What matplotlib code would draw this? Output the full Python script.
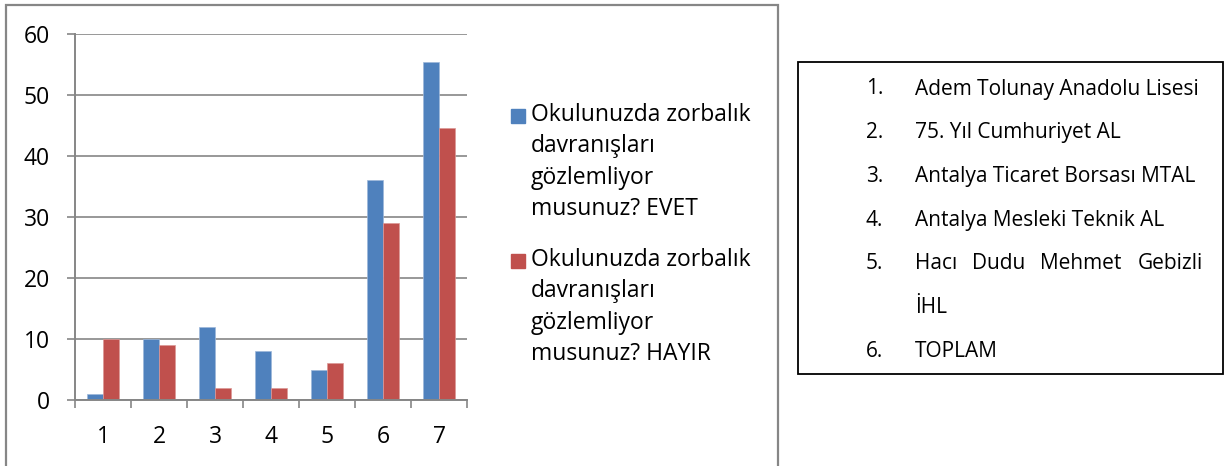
import matplotlib
matplotlib.use("Agg")
import matplotlib.pyplot as plt
from matplotlib.patches import Rectangle
import numpy as np

categories = ["1", "2", "3", "4", "5", "6", "7"]
evet = [1, 10, 12, 8, 5, 36, 55.4]
hayir = [10, 9, 2, 2, 6, 29, 44.6]
series_names = ["Okulunuzda zorbalık\ndavranışları\ngözlemliyor\nmusunuz? EVET",
                "Okulunuzda zorbalık\ndavranışları\ngözlemliyor\nmusunuz? HAYIR"]
yticks = [0, 10, 20, 30, 40, 50, 60]
school_nums = ["1.", "2.", "3.", "4.", "5.", "", "6."]
school_lines = ["Adem Tolunay Anadolu Lisesi", "75. Yıl Cumhuriyet AL",
                "Antalya Ticaret Borsası MTAL", "Antalya Mesleki Teknik AL",
                "Hacı Dudu Mehmet Gebizli", "İHL", "TOPLAM"]

W, H = 1226, 466
FONT = "Open Sans"
FS = 16.5
plt.rcParams['font.family'] = [FONT, 'DejaVu Sans']
fig = plt.figure(figsize=(W / 100, H / 100), dpi=100)

def fx(x):
    return x / W

def fy(y):
    return 1 - y / H

GRAY = "#868686"
BLUE = "#4F81BD"
RED = "#C0504D"

# outer chart frame
fig.patches.append(Rectangle((fx(6), fy(475)), fx(778) - fx(6), fy(5) - fy(475),
                             transform=fig.transFigure, fill=False,
                             edgecolor=GRAY, linewidth=1.6))

ax = fig.add_axes([fx(75), fy(400), fx(467) - fx(75), fy(34) - fy(400)])
x = np.arange(len(categories))
bw = 0.2857
ax.bar(x - bw / 2, evet, bw, color=BLUE, edgecolor="#9db7da", linewidth=0.5, zorder=3)
ax.bar(x + bw / 2, hayir, bw, color=RED, edgecolor="#dc9896", linewidth=0.5, zorder=3)
ax.set_xlim(-0.5, len(categories) - 0.5)
ax.set_ylim(0, 60)
ax.set_yticks(yticks)
ax.set_yticklabels([str(v) for v in yticks], fontsize=FS)
ax.yaxis.grid(True, color=GRAY, linewidth=1.2, zorder=0)
ax.set_axisbelow(True)
for s in ["top", "right"]:
    ax.spines[s].set_visible(False)
for s in ["left", "bottom"]:
    ax.spines[s].set_color(GRAY)
    ax.spines[s].set_linewidth(1.4)
    ax.spines[s].set_zorder(4)
ax.tick_params(axis='y', direction='out', length=6, width=1.2, color=GRAY, pad=12)
ax.set_xticks(x)
ax.set_xticklabels(categories, fontsize=FS)
ax.set_xticks(np.arange(-0.5, len(categories)), minor=True)
ax.tick_params(axis='x', which='major', length=0, pad=18)
ax.tick_params(axis='x', which='minor', direction='out', length=6, width=1.2, color=GRAY)

# legend
for i, (name, col) in enumerate(zip(series_names, [BLUE, RED])):
    top = 109 + i * 145
    fig.patches.append(Rectangle((fx(511), fy(top + 14)), fx(525) - fx(511), fy(top) - fy(top + 14),
                                 transform=fig.transFigure, color=col))
    for j, line in enumerate(name.split("\n")):
        fig.text(fx(531), fy(top + 6 + j * 31.3), line, fontsize=FS, va='center', ha='left')

# right text box
fig.patches.append(Rectangle((fx(798), fy(374)), fx(1223) - fx(798), fy(62) - fy(374),
                             transform=fig.transFigure, fill=False,
                             edgecolor="black", linewidth=1.3))
TFS = 15.0
for k, (num, line) in enumerate(zip(school_nums, school_lines)):
    yc = 89 + k * 43.7
    if num:
        fig.text(fx(866), fy(yc), num, fontsize=TFS, va='center', ha='left')
    if line.startswith("Hacı"):
        words = line.split()
        xs = [915, 972, 1040, 1138]
        for w, xx in zip(words, xs):
            fig.text(fx(xx), fy(yc), w, fontsize=TFS, va='center', ha='left')
    else:
        fig.text(fx(915), fy(yc), line, fontsize=TFS, va='center', ha='left')

fig.savefig("out.png", dpi=100)
